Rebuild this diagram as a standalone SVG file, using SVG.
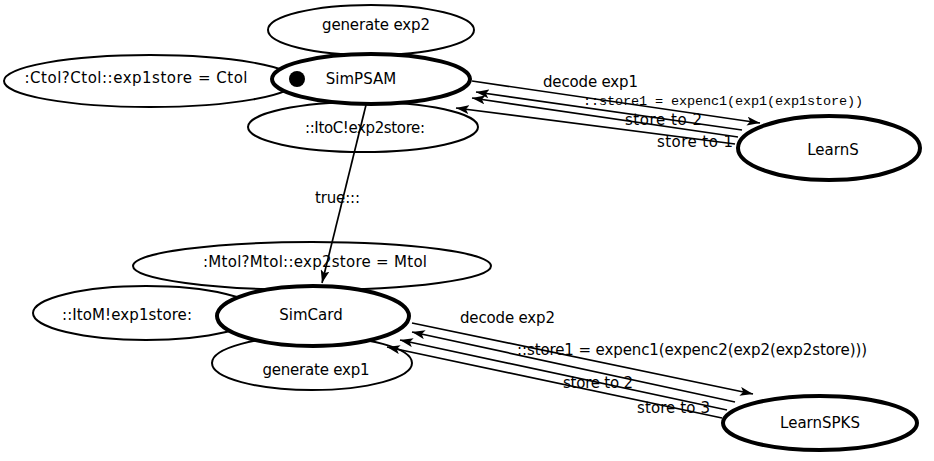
<svg xmlns="http://www.w3.org/2000/svg" width="934" height="461" viewBox="0 0 934 461">
<defs>
<marker id="arr" markerUnits="userSpaceOnUse" markerWidth="14" markerHeight="9" refX="13" refY="4.5" orient="auto">
<path d="M0,0 L13,4.5 L0,9 L3,4.5 z" fill="#000"/>
</marker>
<style>
.state{fill:#fff;stroke:#000;stroke-width:4}
.loop{fill:none;stroke:#000;stroke-width:2}
.edge{fill:none;stroke:#000;stroke-width:1.7;marker-end:url(#arr)}
text{font-family:"DejaVu Sans","Liberation Sans",sans-serif;font-size:15px;fill:#000}
.mono{font-family:"Liberation Mono","DejaVu Sans Mono",monospace;font-size:13.5px}
.c{text-anchor:middle}
</style>
</defs>
<rect width="934" height="461" fill="#fff"/>
<g id="connectors">
<g id="loop-generate-exp2">
<ellipse class="loop" cx="371" cy="30" rx="103" ry="25"/>
<text class="c" x="376" y="30" textLength="108" lengthAdjust="spacing">generate exp2</text>
</g>
<g id="loop-ctol">
<ellipse class="loop" cx="150" cy="81" rx="146" ry="26"/>
<text class="c" x="136" y="83" textLength="223" lengthAdjust="spacing">:Ctol?Ctol::exp1store = Ctol</text>
</g>
<g id="loop-itoc">
<ellipse class="loop" cx="363" cy="127" rx="115" ry="25"/>
<text class="c" x="365" y="133" textLength="120" lengthAdjust="spacing">::ItoC!exp2store:</text>
</g>
<g id="loop-mtol">
<ellipse class="loop" cx="312" cy="266" rx="179" ry="24"/>
<text class="c" x="315" y="267" textLength="224" lengthAdjust="spacing">:Mtol?Mtol::exp2store = Mtol</text>
</g>
<g id="loop-itom">
<ellipse class="loop" cx="146" cy="313" rx="113" ry="27"/>
<text class="c" x="127" y="320" textLength="130" lengthAdjust="spacing">::ItoM!exp1store:</text>
</g>
<g id="loop-generate-exp1">
<ellipse class="loop" cx="312" cy="363" rx="100" ry="27"/>
<text class="c" x="316" y="375" textLength="107" lengthAdjust="spacing">generate exp1</text>
</g>
<line class="edge" x1="472" y1="81" x2="760" y2="123"/>
<text x="543" y="87" textLength="95" lengthAdjust="spacing">decode exp1</text>
<line class="edge" x1="742" y1="130" x2="476" y2="92"/>
<text class="mono" x="583" y="105" textLength="280" lengthAdjust="spacing">::store1 = expenc1(exp1(exp1store))</text>
<line class="edge" x1="738" y1="137" x2="472" y2="98"/>
<text x="625" y="125" textLength="77" lengthAdjust="spacing">store to 2</text>
<line class="edge" x1="735" y1="144" x2="456" y2="108"/>
<text x="657" y="147" textLength="76" lengthAdjust="spacing">store to 1</text>
<line class="edge" x1="366" y1="105" x2="322" y2="283"/>
<text x="315" y="203" textLength="45" lengthAdjust="spacing">true:::</text>
<line class="edge" x1="412" y1="323" x2="753" y2="394"/>
<text x="460" y="323" textLength="95" lengthAdjust="spacing">decode exp2</text>
<line class="edge" x1="735" y1="402" x2="412" y2="332"/>
<text x="517" y="355" textLength="350" lengthAdjust="spacing">::store1 = expenc1(expenc2(exp2(exp2store)))</text>
<line class="edge" x1="727" y1="410" x2="400" y2="340"/>
<text x="563" y="388" textLength="70" lengthAdjust="spacing">store to 2</text>
<line class="edge" x1="722" y1="418" x2="387" y2="347"/>
<text x="637" y="413" textLength="73" lengthAdjust="spacing">store to 3</text>
</g>
<g id="SimPSAM">
<ellipse class="state" cx="371" cy="79" rx="99" ry="25"/>
<circle cx="297" cy="79" r="8" fill="#000"/>
<text class="c" x="361" y="84">SimPSAM</text>
</g>
<g id="LearnS">
<ellipse class="state" cx="829" cy="148" rx="91" ry="32"/>
<text class="c" x="833" y="155">LearnS</text>
</g>
<g id="SimCard">
<ellipse class="state" cx="313" cy="316" rx="96" ry="30"/>
<text class="c" x="311" y="320">SimCard</text>
</g>
<g id="LearnSPKS">
<ellipse class="state" cx="820" cy="423" rx="97" ry="27"/>
<text class="c" x="820" y="428">LearnSPKS</text>
</g>
</svg>
